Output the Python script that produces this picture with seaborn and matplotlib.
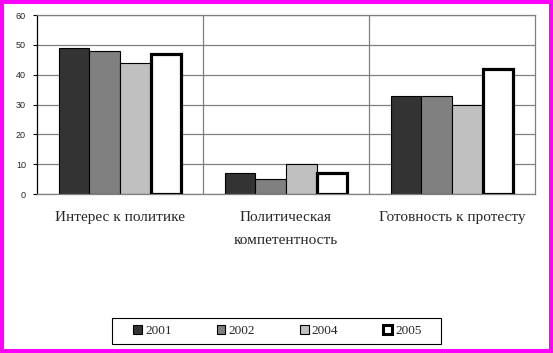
import pandas as pd
import seaborn as sns
import matplotlib.pyplot as plt
from matplotlib.patches import Patch, Rectangle

# данные
categories = ['Интерес к политике', 'Политическая\nкомпетентность', 'Готовность к протесту']
years = ['2001', '2002', '2004', '2005']
v2001 = [49, 7, 33]
v2002 = [48, 5, 33]
v2004 = [44, 10, 30]
v2005 = [47, 7, 42]
colors = ['#333333', '#808080', '#c0c0c0', '#ffffff']

rows = []
for year, vals in zip(years, [v2001, v2002, v2004, v2005]):
    for cat, v in zip(categories, vals):
        rows.append({'category': cat, 'year': year, 'value': v})
df = pd.DataFrame(rows)

sns.set_style("white")
plt.rcParams['font.family'] = ['Liberation Serif', 'DejaVu Serif']

fig = plt.figure(figsize=(5.53, 3.53), dpi=100)
ax = fig.add_axes([37 / 553, 1 - 194 / 353, 498 / 553, 179 / 353])

sns.barplot(data=df, x='category', y='value', hue='year', order=categories,
            hue_order=years, palette=colors, width=0.735, gap=0, saturation=1,
            edgecolor='black', linewidth=0.8, legend=False, ax=ax)

# толстая рамка у 2005
for bar in ax.containers[3]:
    bar.set_linewidth(2.3)
    bar.set_zorder(3)

ax.set_ylim(0, 60)
ax.set_xlim(-0.5, 2.5)
ax.set_yticks(range(0, 61, 10))
ax.set_xticks([0.5, 1.5], minor=True)
ax.grid(True, axis='y', color='#808080', linewidth=0.9)
ax.grid(True, axis='x', which='minor', color='#808080', linewidth=0.9)
ax.set_axisbelow(True)
ax.set_xlabel('')
ax.set_ylabel('')

for s in ['top', 'right', 'bottom']:
    ax.spines[s].set_color('#808080')
    ax.spines[s].set_linewidth(0.9)
ax.spines['left'].set_color('black')
ax.spines['left'].set_linewidth(0.9)

ax.tick_params(axis='y', left=True, length=3, width=0.8, color='black', pad=5)
for lab in ax.get_yticklabels():
    lab.set_fontfamily('Liberation Sans')
    lab.set_fontsize(6.5)
ax.tick_params(axis='x', which='both', length=0, pad=12)
for lab in ax.get_xticklabels():
    lab.set_fontsize(11)
    lab.set_linespacing(2.0)

# легенда
handles = [Patch(facecolor=c, edgecolor='black', linewidth=0.8 if y != '2005' else 2.2, label=y)
           for c, y in zip(colors, years)]
leg = fig.legend(handles=handles, loc='center', ncol=4,
                 bbox_to_anchor=(277.5 / 553, 1 - 331 / 353), frameon=False,
                 fontsize=9.5, handlelength=0.65, handleheight=0.65,
                 handletextpad=0.25, columnspacing=3.4, borderaxespad=0)

# рамка легенды
fig.patches.append(Rectangle((112 / 553, 1 - 344 / 353), 329 / 553, 26 / 353,
                             transform=fig.transFigure, fill=False,
                             edgecolor='black', linewidth=0.8))

# рамка вокруг рисунка
fig.patches.append(Rectangle((0, 0), 1, 1, transform=fig.transFigure, fill=False,
                             edgecolor='#ff00ff', linewidth=5.8))

fig.savefig('out.png', dpi=100)
